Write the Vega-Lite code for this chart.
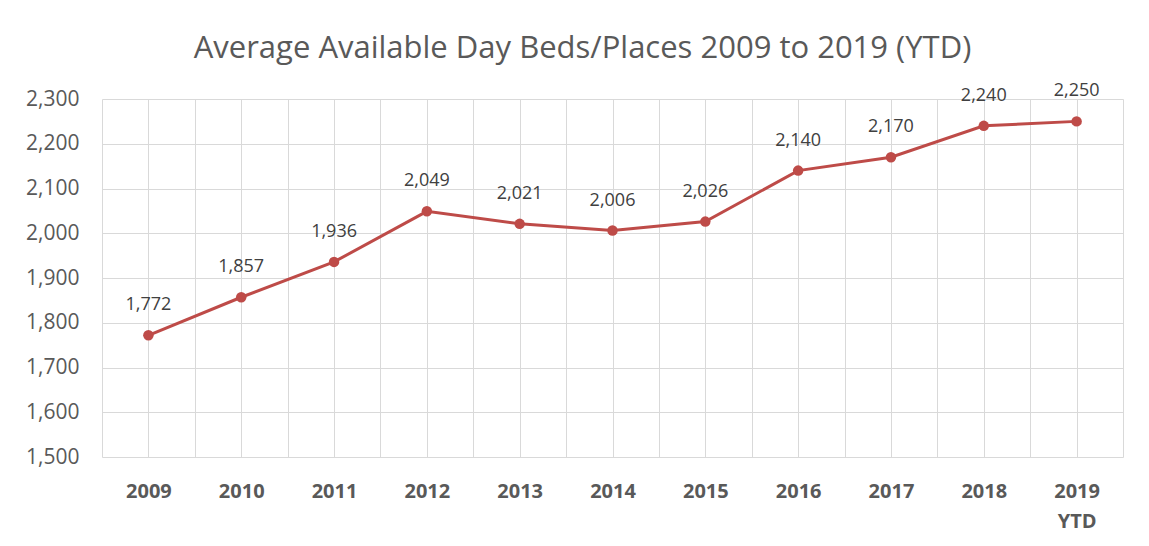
{
  "$schema": "https://vega.github.io/schema/vega-lite/v6.json",
  "autosize": {"type": "none"},
  "width": 1021,
  "height": 358,
  "padding": {"left": 102, "top": 99, "right": 26, "bottom": 89},
  "background": "white",
  "config": {
    "view": {"stroke": null},
    "font": "Open Sans",
    "axis": {"gridColor": "#D9D9D9", "gridWidth": 1, "domain": false, "ticks": false, "labelColor": "#595959"}
  },
  "title": {
    "text": "Average Available Day Beds/Places 2009 to 2019 (YTD)",
    "fontSize": 31,
    "fontWeight": "normal",
    "color": "#595959",
    "font": "Open Sans",
    "anchor": "middle",
    "offset": 17,
    "dx": -30
  },
  "data": {
    "values": [
      {"year": 2009, "value": 1772},
      {"year": 2010, "value": 1857},
      {"year": 2011, "value": 1936},
      {"year": 2012, "value": 2049},
      {"year": 2013, "value": 2021},
      {"year": 2014, "value": 2006},
      {"year": 2015, "value": 2026},
      {"year": 2016, "value": 2140},
      {"year": 2017, "value": 2170},
      {"year": 2018, "value": 2240},
      {"year": 2019, "value": 2250}
    ]
  },
  "encoding": {
    "x": {
      "field": "year",
      "type": "quantitative",
      "scale": {"domain": [2008.5, 2019.5], "nice": false, "zero": false},
      "axis": {
        "title": null,
        "grid": true,
        "values": [2008.5, 2009, 2009.5, 2010, 2010.5, 2011, 2011.5, 2012, 2012.5, 2013, 2013.5, 2014, 2014.5, 2015, 2015.5, 2016, 2016.5, 2017, 2017.5, 2018, 2018.5, 2019, 2019.5],
        "labelExpr": "datum.value == 2019 ? ['2019', 'YTD'] : (floor(datum.value) == datum.value ? '' + datum.value : '')",
        "labelFontSize": 20,
        "labelFontWeight": "bold",
        "labelPadding": 24,
        "labelLineHeight": 30,
        "labelOverlap": false,
        "labelFlush": false
      }
    },
    "y": {
      "field": "value",
      "type": "quantitative",
      "scale": {"domain": [1500, 2300], "nice": false, "zero": false},
      "axis": {
        "title": null,
        "grid": true,
        "values": [1500, 1600, 1700, 1800, 1900, 2000, 2100, 2200, 2300],
        "format": ",d",
        "labelFontSize": 21,
        "labelPadding": 23
      }
    }
  },
  "layer": [
    {
      "mark": {"type": "line", "color": "#BE4B48", "strokeWidth": 3, "point": {"filled": true, "size": 110, "color": "#BE4B48", "opacity": 1}}
    },
    {
      "mark": {"type": "text", "dy": -30, "fontSize": 18, "color": "#404040", "font": "Open Sans"},
      "encoding": {"text": {"field": "value", "type": "quantitative", "format": ",d"}}
    }
  ]
}
